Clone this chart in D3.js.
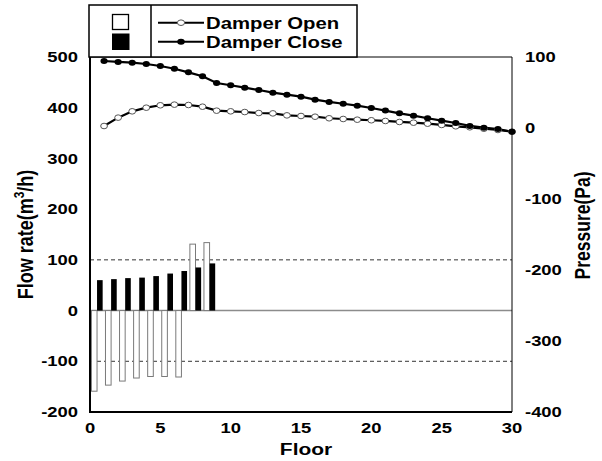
<!DOCTYPE html>
<html>
<head>
<meta charset="utf-8">
<script src="https://cdn.jsdelivr.net/npm/d3@7"></script>
<style>
  html, body { margin: 0; padding: 0; background: #fff; }
  svg text { font-family: "Liberation Sans", Arial, sans-serif; font-weight: bold; fill: #000; }
</style>
</head>
<body>
<svg id="chart" width="602" height="461"></svg>
<script>
// Floors on the x axis
const lineFloors = d3.range(1, 31);
const barFloors = [1, 2, 3, 4, 5, 6, 7, 8, 9];

// Pressure (Pa) per floor, right axis
const pressureOpen = [2.8, 14.6, 23.5, 28.6, 32.0, 32.9, 32.4, 30.0, 24.4, 23.5,
                      22.5, 21.1, 20.6, 17.8, 16.9, 15.9, 13.7, 12.7, 11.7, 10.9,
                      9.9, 8.5, 7.5, 6.1, 4.3, 2.4, 1.0, -1.0, -2.8, -5.2];
const pressureClose = [94.4, 93.0, 92.0, 90.1, 87.3, 83.5, 78.4, 72.8, 63.4, 60.2,
                       56.8, 53.5, 49.8, 47.0, 44.1, 39.9, 36.7, 34.2, 31.4, 28.2,
                       24.5, 20.7, 17.4, 13.7, 10.3, 7.1, 2.9, 0.5, -1.4, -5.2];

// Flow rate (m3/h) per floor, left axis bars
const flowOpen = [-159, -147, -139, -133, -130, -130, -131, 131, 134];
const flowClose = [60, 62, 64, 65, 68, 73, 78, 85, 93];

// Tick values
const xTicks = [0, 5, 10, 15, 20, 25, 30];
const flowTicks = [500, 400, 300, 200, 100, 0, -100, -200];
const pressureTicks = [100, 0, -100, -200, -300, -400];
const seriesNames = ["Damper Open", "Damper Close"];

const svg = d3.select("#chart");
const plot = { left: 90, right: 512, top: 57, bottom: 412 };
const stretch = 1.27;  // glyphs are drawn wide

const x = d3.scaleLinear().domain([0, 30]).range([plot.left, plot.right]);
const yFlow = d3.scaleLinear().domain([-200, 500]).range([plot.bottom, plot.top]);
const yPres = d3.scaleLinear().domain([-400, 100]).range([plot.bottom, plot.top]);

function label(g, str, px, py, opts) {
  opts = opts || {};
  const t = g.append("text")
    .attr("transform", `translate(${px},${py}) scale(${stretch},1) rotate(${opts.rotate || 0})`)
    .attr("text-anchor", opts.anchor || "start")
    .style("font-size", (opts.size || 14.5) + "px")
    .text(str);
  return t;
}

// Reference lines at flow 0 and ±100
svg.append("line")
  .attr("x1", plot.left).attr("x2", plot.right)
  .attr("y1", yFlow(0)).attr("y2", yFlow(0))
  .attr("stroke", "#8c8c8c").attr("stroke-width", 1.5);
[100, -100].forEach(v => {
  svg.append("line")
    .attr("x1", plot.left).attr("x2", plot.right)
    .attr("y1", yFlow(v)).attr("y2", yFlow(v))
    .attr("stroke", "#333").attr("stroke-width", 1)
    .attr("stroke-dasharray", "4,3");
});

// Bars: open (outlined) left of each floor centre, closed (filled) right of it
const barW = x(0.4) - x(0);
const barG = svg.append("g");
barG.selectAll("rect.open").data(barFloors).join("rect")
  .attr("class", "open")
  .attr("x", d => x(d - 0.5) - barW)
  .attr("width", barW)
  .attr("y", (d, i) => yFlow(Math.max(0, flowOpen[i])))
  .attr("height", (d, i) => Math.abs(yFlow(flowOpen[i]) - yFlow(0)))
  .attr("fill", "#fff").attr("stroke", "#7a7a7a").attr("stroke-width", 1);
barG.selectAll("rect.close").data(barFloors).join("rect")
  .attr("class", "close")
  .attr("x", d => x(d - 0.5))
  .attr("width", barW)
  .attr("y", (d, i) => yFlow(Math.max(0, flowClose[i])))
  .attr("height", (d, i) => Math.abs(yFlow(flowClose[i]) - yFlow(0)))
  .attr("fill", "#000");

// Pressure lines
const line = d3.line().x(d => x(d[0])).y(d => yPres(d[1]));
const openPts = lineFloors.map((f, i) => [f, pressureOpen[i]]);
const closePts = lineFloors.map((f, i) => [f, pressureClose[i]]);

svg.append("path").attr("d", line(openPts))
  .attr("fill", "none").attr("stroke", "#000").attr("stroke-width", 2.2);
svg.append("path").attr("d", line(closePts))
  .attr("fill", "none").attr("stroke", "#000").attr("stroke-width", 2.2);

svg.append("g").selectAll("ellipse").data(openPts).join("ellipse")
  .attr("cx", d => x(d[0])).attr("cy", d => yPres(d[1]))
  .attr("rx", 3.4).attr("ry", 2.8)
  .attr("fill", "#fff").attr("stroke", "#555").attr("stroke-width", 1);
svg.append("g").selectAll("ellipse").data(closePts).join("ellipse")
  .attr("cx", d => x(d[0])).attr("cy", d => yPres(d[1]))
  .attr("rx", 3.6).attr("ry", 3)
  .attr("fill", "#000");

// Frame
svg.append("line").attr("x1", plot.left).attr("x2", plot.right)
  .attr("y1", plot.top).attr("y2", plot.top)
  .attr("stroke", "#000").attr("stroke-width", 1);
svg.append("line").attr("x1", plot.right).attr("x2", plot.right)
  .attr("y1", plot.top).attr("y2", plot.bottom)
  .attr("stroke", "#000").attr("stroke-width", 1);
svg.append("line").attr("x1", plot.left).attr("x2", plot.left)
  .attr("y1", plot.top).attr("y2", plot.bottom + 1)
  .attr("stroke", "#000").attr("stroke-width", 2);
svg.append("line").attr("x1", plot.left - 1).attr("x2", plot.right)
  .attr("y1", plot.bottom).attr("y2", plot.bottom)
  .attr("stroke", "#000").attr("stroke-width", 2);

// Tick labels
const tg = svg.append("g");
flowTicks.forEach(v => label(tg, String(v), 78, yFlow(v) + 5.2, { anchor: "end" }));
pressureTicks.forEach(v => label(tg, String(v), 525, yPres(v) + 5.2, { anchor: "start" }));
xTicks.forEach(v => label(tg, String(v), x(v), 433, { anchor: "middle" }));

// Axis titles
label(svg, "Floor", 306, 455, { anchor: "middle", size: 16.5 });
const fl = label(svg, "", 33, (plot.top + plot.bottom) / 2, { anchor: "middle", size: 18, rotate: -90 });
fl.append("tspan").text("Flow rate(m");
fl.append("tspan").attr("dy", -7).style("font-size", "12px").text("3");
fl.append("tspan").attr("dy", 7).text("/h)");
label(svg, "Pressure(Pa)", 590, (plot.top + plot.bottom) / 2 - 9, { anchor: "middle", size: 17.5, rotate: -90 });

// Legend
const lg = svg.append("g");
lg.append("rect").attr("x", 89).attr("y", 5).attr("width", 357 - 89).attr("height", plot.top - 5)
  .attr("fill", "#fff").attr("stroke", "#000").attr("stroke-width", 1.5);
lg.append("line").attr("x1", 151).attr("x2", 151).attr("y1", 5).attr("y2", plot.top)
  .attr("stroke", "#000").attr("stroke-width", 1.5);
lg.append("rect").attr("x", 112.5).attr("y", 14.5).attr("width", 16).attr("height", 15)
  .attr("fill", "#fff").attr("stroke", "#000").attr("stroke-width", 1.3);
lg.append("rect").attr("x", 112).attr("y", 33.5).attr("width", 17.5).attr("height", 16.5)
  .attr("fill", "#000");

const legendRows = [22.7, 41.7];
seriesNames.forEach((name, i) => {
  const yy = legendRows[i];
  lg.append("line").attr("x1", 158).attr("x2", 204).attr("y1", yy).attr("y2", yy)
    .attr("stroke", "#000").attr("stroke-width", 2);
  lg.append("ellipse").attr("cx", 181).attr("cy", yy)
    .attr("rx", i === 0 ? 3.6 : 3.8).attr("ry", i === 0 ? 2.8 : 3)
    .attr("fill", i === 0 ? "#fff" : "#000")
    .attr("stroke", i === 0 ? "#555" : "none").attr("stroke-width", 1);
  label(lg, name, 206, yy + 5.8, { size: 16 });
});
</script>
</body>
</html>
